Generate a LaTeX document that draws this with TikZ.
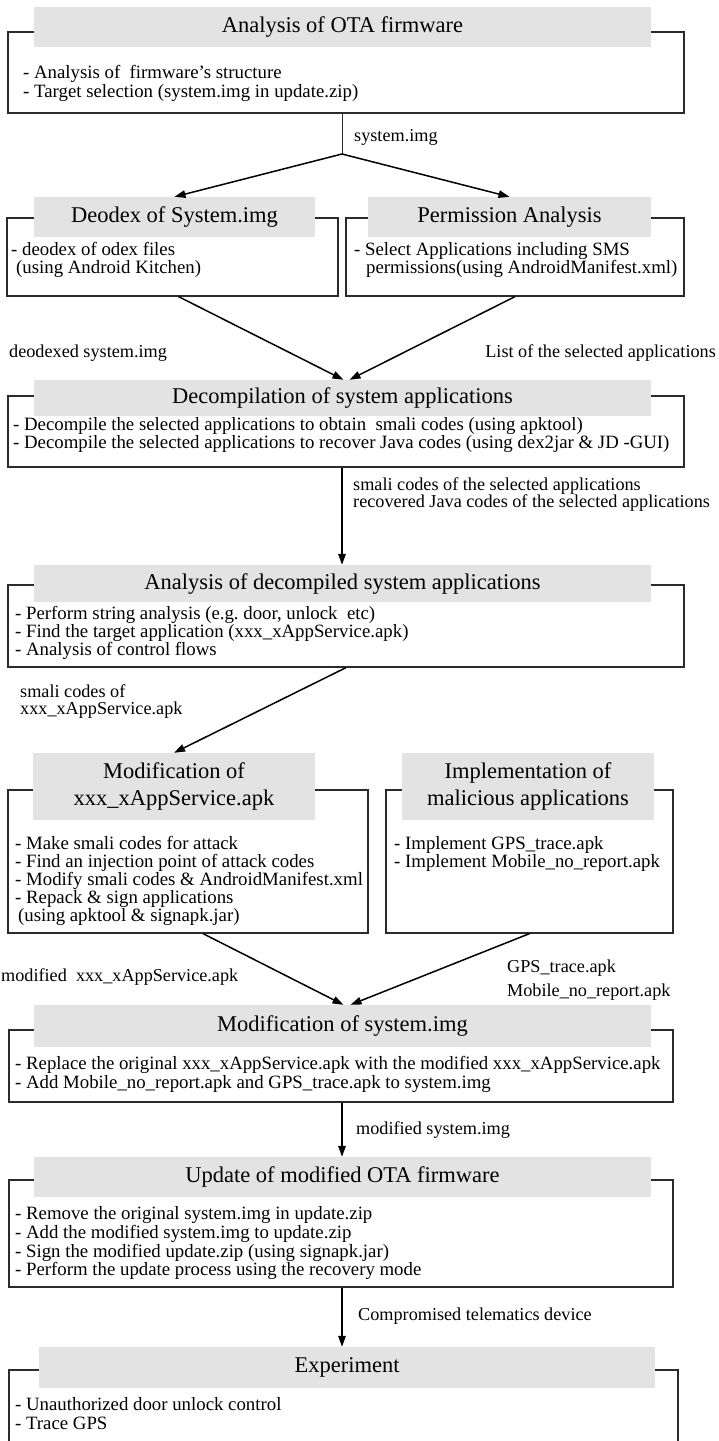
\documentclass[tikz,border=0pt]{standalone}
\usepackage{fontspec}
\setmainfont{Liberation Serif}
\usetikzlibrary{arrows.meta,positioning}
\definecolor{headgray}{HTML}{E3E3E3}
\definecolor{framegray}{HTML}{2B2B2B}
\tikzset{
  frm/.style={draw=framegray, line width=1.2pt, fill=white, inner sep=0pt},
  hdr/.style={fill=headgray, inner sep=0pt, align=center, font=\fontsize{22.5}{27}\selectfont},
  bdy/.style={anchor=north west, align=left, inner sep=0pt, font=\fontsize{18.8}{18}\selectfont},
  lbl/.style={anchor=west, align=left, inner sep=0pt, font=\fontsize{18.2}{17}\selectfont},
  ar/.style={-{Triangle[length=11pt,width=7.5pt]}, line width=1.5pt},
}
\begin{document}
\begin{tikzpicture}[x=1pt, y=-1pt]
\clip (0,0) rectangle (718,1441);
% analysis of OTA firmware
\node[frm, minimum width=676pt, minimum height=81pt] (fota) at (346,72.5) {};
\node[hdr, minimum width=617pt, minimum height=40pt] (hota) at (342.5,27) {Analysis of OTA firmware};
\node[bdy, font=\fontsize{18.8}{16.7}\selectfont] (bota) at (23,65.5) {- Analysis of\ \ firmware's structure\\- Target selection (system.img in update.zip)};
\coordinate (split) at (342,154);
\node[lbl] (lsys) at (354,137) {system.img};
% deodex / permission
\node[frm, minimum width=331pt, minimum height=78pt] (fdeo) at (172.5,257) {};
\node[hdr, minimum width=281pt, minimum height=40pt] (hdeo) at (174.5,217) {Deodex of System.img};
\node[bdy] (bdeo) at (11,242.5) {- deodex of odex files\\\hspace{5pt}(using Android Kitchen)};
\node[frm, minimum width=338pt, minimum height=78pt] (fper) at (515,257) {};
\node[hdr, minimum width=283pt, minimum height=40pt] (hper) at (509.5,217) {Permission Analysis};
\node[bdy] (bper) at (354,242.5) {- Select Applications including SMS\\\hspace{12pt}permissions(using AndroidManifest.xml)};
\draw[line width=1pt, draw=framegray] (fota.south -| split) -- (split);
\draw[ar] (split) -- (hdeo.north);
\draw[ar] (split) -- (hper.north);
\node[lbl] (ldeo) at (9,353) {deodexed system.img};
\node[lbl, anchor=east] (llist) at (716,353) {List of the selected applications};
% decompilation
\node[frm, minimum width=676pt, minimum height=71pt] (fdec) at (346,431.5) {};
\node[hdr, minimum width=617pt, minimum height=36pt] (hdec) at (342.5,398) {Decompilation of system applications};
\node[bdy, font=\fontsize{18.8}{17}\selectfont] (bdec) at (13,417.5) {- Decompile the selected applications to obtain\ \ smali codes (using apktool)\\- Decompile the selected applications to recover Java codes (using dex2jar \& JD -GUI)};
\draw[ar] ([xshift=6pt]fdeo.south) -- ([xshift=1pt]hdec.north);
\draw[ar] (fper.south) -- ([xshift=7pt]hdec.north);
\node[lbl] (lsmali) at (353,494.5) {smali codes of the selected applications\\recovered Java codes of the selected applications};
% analysis of decompiled apps
\node[frm, minimum width=676pt, minimum height=82pt] (fana) at (346,626) {};
\node[hdr, minimum width=617pt, minimum height=37pt] (hana) at (342.5,583.5) {Analysis of decompiled system applications};
\node[bdy] (bana) at (15,606.5) {- Perform string analysis (e.g.\ door, unlock\ \ etc)\\- Find the target application (xxx\_xAppService.apk)\\- Analysis of control flows};
\draw[ar] (fdec.south -| split) -- (hana.north -| split);
\node[lbl] (lsmx) at (20,702) {smali codes of\\xxx\_xAppService.apk};
% modification / implementation
\node[frm, minimum width=360pt, minimum height=143pt] (fmod) at (188,861.5) {};
\node[hdr, minimum width=282pt, minimum height=67pt] (hmod) at (174,786.5) {Modification of\\xxx\_xAppService.apk};
\node[bdy] (bmod) at (15,836.5) {- Make smali codes for attack\\- Find an injection point of attack codes\\- Modify smali codes \& AndroidManifest.xml\\- Repack \& sign applications\\\hspace{3pt}(using apktool \& signapk.jar)};
\node[frm, minimum width=287pt, minimum height=143pt] (fimp) at (529.5,861.5) {};
\node[hdr, minimum width=252pt, minimum height=67pt] (himp) at (528,786.5) {Implementation of\\malicious applications};
\node[bdy] (bimp) at (394,836.5) {- Implement GPS\_trace.apk\\- Implement Mobile\_no\_report.apk};
\draw[ar] (fana.south) -- (hmod.north);
\node[lbl] (lmodx) at (1,977) {modified\ \ xxx\_xAppService.apk};
\node[lbl, font=\fontsize{18.2}{24}\selectfont] (lgps) at (507,980) {GPS\_trace.apk\\Mobile\_no\_report.apk};
% modification of system.img
\node[frm, minimum width=664pt, minimum height=72pt] (fsys) at (341,1066) {};
\node[hdr, minimum width=617pt, minimum height=42pt] (hsys) at (342.5,1026) {Modification of system.img};
\node[bdy, font=\fontsize{18.8}{17}\selectfont] (bsys) at (15,1056.5) {- Replace the original xxx\_xAppService.apk with the modified xxx\_xAppService.apk\\- Add Mobile\_no\_report.apk and GPS\_trace.apk to system.img};
\draw[ar] ([xshift=15pt]fmod.south) -- ([xshift=1pt]hsys.north);
\draw[ar] (fimp.south) -- ([xshift=8pt]hsys.north);
% update of modified firmware
\node[frm, minimum width=664pt, minimum height=107pt] (fupd) at (341,1233.5) {};
\node[hdr, minimum width=617pt, minimum height=40pt] (hupd) at (342.5,1177) {Update of modified OTA firmware};
\node[bdy, font=\fontsize{18.8}{18.7}\selectfont] (bupd) at (15,1206.5) {- Remove the original system.img in update.zip\\- Add the modified system.img to update.zip\\- Sign the modified update.zip (using signapk.jar)\\- Perform the update process using the recovery mode};
\draw[ar] (fsys.south -| split) -- (hupd.north -| split);
\node[lbl] (lmsys) at (356,1130) {modified system.img};
% experiment
\node[frm, minimum width=669pt, minimum height=110pt] (fexp) at (343.5,1425) {};
\node[hdr, minimum width=616pt, minimum height=41pt] (hexp) at (347,1367.5) {Experiment};
\node[bdy, font=\fontsize{18.8}{19}\selectfont] (bexp) at (15,1397.5) {- Unauthorized door unlock control\\- Trace GPS};
\draw[ar] (fupd.south -| split) -- (hexp.north -| split);
\node[lbl] (lcomp) at (358,1316) {Compromised telematics device};
\end{tikzpicture}
\end{document}
